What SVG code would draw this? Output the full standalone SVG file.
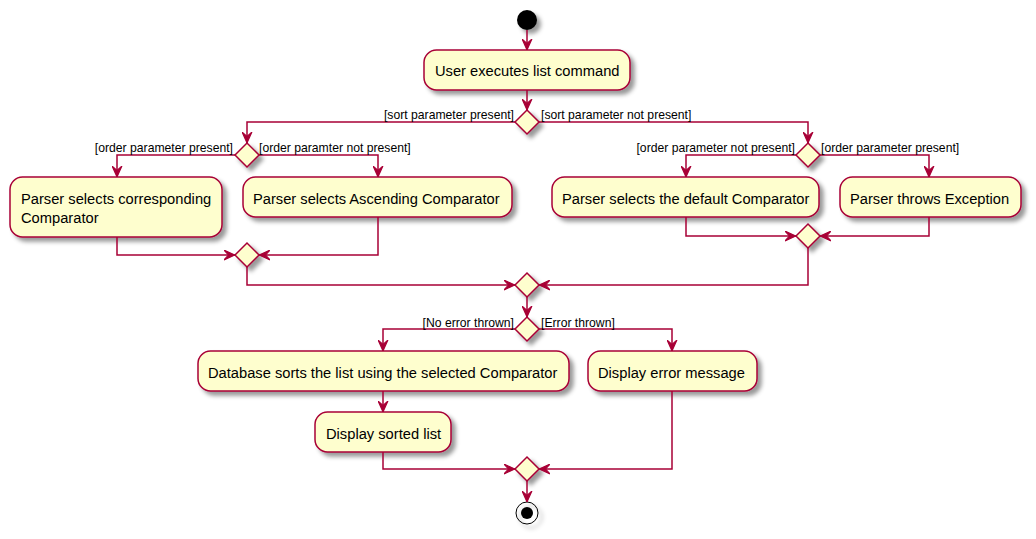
<svg xmlns="http://www.w3.org/2000/svg" width="1036" height="539" viewBox="0 0 1036 539">
<defs>
<filter id="sh" x="-1" y="-1" width="300%" height="300%"><feGaussianBlur result="b" stdDeviation="2"/><feColorMatrix in="b" result="b2" type="matrix" values="0 0 0 0 0 0 0 0 0 0 0 0 0 0 0 0 0 0 .4 0"/><feOffset dx="4" dy="4" in="b2" result="b3"/><feBlend in="SourceGraphic" in2="b3" mode="normal"/></filter>
<marker id="ah" viewBox="0 0 10 10" refX="10" refY="5" markerWidth="11" markerHeight="11" markerUnits="userSpaceOnUse" orient="auto"><path d="M0,0.5 L10,5 L0,9.5 L4,5 Z" fill="#A80036" stroke="#A80036" stroke-width="1"/></marker>
</defs>
<style>
.act{fill:#FEFECE;stroke:#A80036;stroke-width:1.5;filter:url(#sh)}
.dia{fill:#FEFECE;stroke:#A80036;stroke-width:1.5;filter:url(#sh)}
.t{font-family:"Liberation Sans",Arial,sans-serif;font-size:14.7px;fill:#000}
.g{font-family:"Liberation Sans",Arial,sans-serif;font-size:12.2px;fill:#000}
.e{fill:none;stroke:#A80036;stroke-width:1.5;marker-end:url(#ah)}
</style>
<rect width="1036" height="539" fill="#FFFFFF"/>
<g id="start"><circle cx="527" cy="20" r="10" fill="#000" filter="url(#sh)"/></g>
<g id="n_user"><rect class="act" x="424" y="50" width="206" height="40" rx="12.5"/><text class="t" x="435" y="75.5">User executes list command</text></g>
<g id="d1"><polygon class="dia" points="515,122 527,110 539,122 527,134"/></g>
<g id="d2"><polygon class="dia" points="235,155 247,143 259,155 247,167"/></g>
<g id="n_corr"><rect class="act" x="10" y="177" width="212" height="60" rx="12.5"/><text class="t" x="21" y="203.5">Parser selects corresponding</text><text class="t" x="21" y="222.5">Comparator</text></g>
<g id="n_asc"><rect class="act" x="243" y="177" width="269" height="40" rx="12.5"/><text class="t" x="253" y="203.5">Parser selects Ascending Comparator</text></g>
<g id="d3"><polygon class="dia" points="235,255 247,243 259,255 247,267"/></g>
<g id="d4"><polygon class="dia" points="796,155 808,143 820,155 808,167"/></g>
<g id="n_def"><rect class="act" x="552" y="177" width="267" height="40" rx="12.5"/><text class="t" x="562" y="203.5">Parser selects the default Comparator</text></g>
<g id="n_exc"><rect class="act" x="840" y="177" width="181" height="40" rx="12.5"/><text class="t" x="850" y="203.5">Parser throws Exception</text></g>
<g id="d5"><polygon class="dia" points="796,236 808,224 820,236 808,248"/></g>
<g id="d6"><polygon class="dia" points="515,285 527,273 539,285 527,297"/></g>
<g id="d7"><polygon class="dia" points="515,329 527,317 539,329 527,341"/></g>
<g id="n_db"><rect class="act" x="198" y="351" width="371" height="40" rx="12.5"/><text class="t" x="208" y="377.5">Database sorts the list using the selected Comparator</text></g>
<g id="n_err"><rect class="act" x="588" y="351" width="169" height="40" rx="12.5"/><text class="t" x="598" y="377.5">Display error message</text></g>
<g id="n_sorted"><rect class="act" x="315" y="412" width="136" height="40" rx="12.5"/><text class="t" x="326" y="438.5">Display sorted list</text></g>
<g id="d8"><polygon class="dia" points="515,469 527,457 539,469 527,481"/></g>
<g id="end"><circle cx="527" cy="513" r="11" fill="none" stroke="#000" stroke-width="1" filter="url(#sh)"/><circle cx="527" cy="513" r="6" fill="#000"/></g>
<g id="connectors">
<path class="e" d="M527,30 L527,50"/>
<path class="e" d="M527,90 L527,110"/>
<path class="e" d="M515,122 L247,122 L247,143"/>
<path class="e" d="M539,122 L808,122 L808,143"/>
<path class="e" d="M235,155 L117,155 L117,177"/>
<path class="e" d="M259,155 L378,155 L378,177"/>
<path class="e" d="M117,237 L117,255 L235,255"/>
<path class="e" d="M378,217 L378,255 L259,255"/>
<path class="e" d="M796,155 L686,155 L686,177"/>
<path class="e" d="M820,155 L929,155 L929,177"/>
<path class="e" d="M686,217 L686,236 L796,236"/>
<path class="e" d="M929,217 L929,236 L820,236"/>
<path class="e" d="M247,267 L247,285 L515,285"/>
<path class="e" d="M808,248 L808,285 L539,285"/>
<path class="e" d="M527,297 L527,317"/>
<path class="e" d="M515,329 L383,329 L383,351"/>
<path class="e" d="M539,329 L672,329 L672,351"/>
<path class="e" d="M383,391 L383,412"/>
<path class="e" d="M383,452 L383,469 L515,469"/>
<path class="e" d="M672,391 L672,469 L539,469"/>
<path class="e" d="M527,481 L527,502"/>
<text class="g" x="514" y="119" text-anchor="end">[sort parameter present]</text>
<text class="g" x="541" y="119">[sort parameter not present]</text>
<text class="g" x="233" y="152" text-anchor="end">[order parameter present]</text>
<text class="g" x="259" y="152">[order paramter not present]</text>
<text class="g" x="795" y="152" text-anchor="end">[order parameter not present]</text>
<text class="g" x="821" y="152">[order parameter present]</text>
<text class="g" x="514" y="327" text-anchor="end">[No error thrown]</text>
<text class="g" x="541" y="327">[Error thrown]</text>
</g>
</svg>
